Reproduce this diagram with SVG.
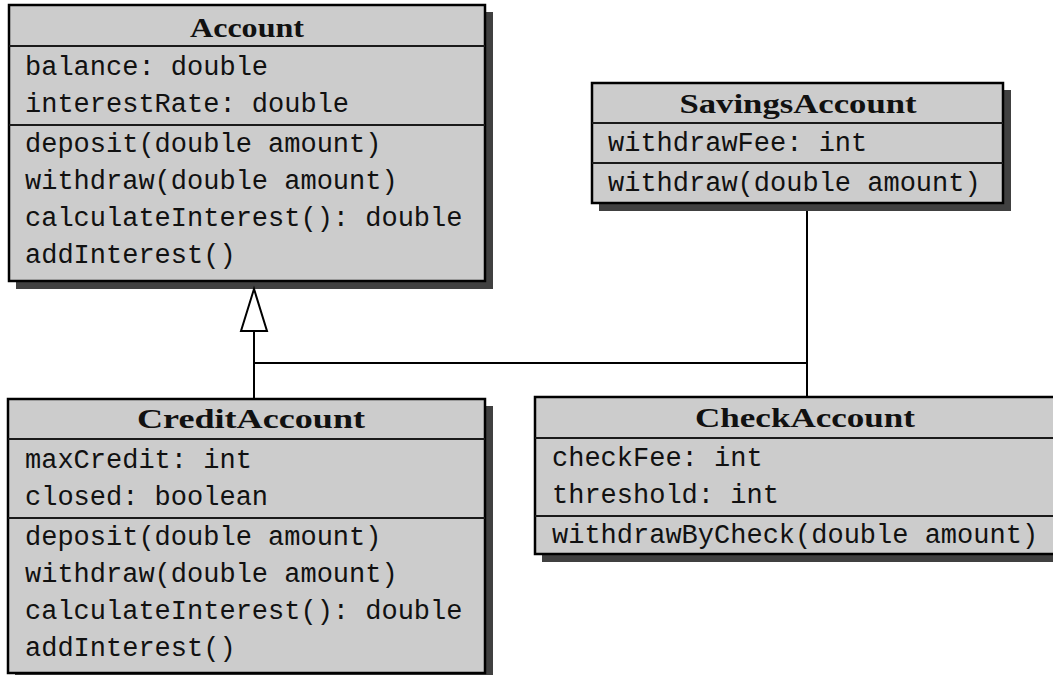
<svg xmlns="http://www.w3.org/2000/svg" width="1053" height="675" viewBox="0 0 1053 675">
  <style>
    .shadow { fill: #404040; }
    .box { fill: #cccccc; stroke: #000000; stroke-width: 2.5; }
    .sep { stroke: #1a1a1a; stroke-width: 2.2; }
    .title { font-family: "Liberation Serif", "DejaVu Serif", serif; font-weight: bold; font-size: 27px; fill: #111111; }
    .mono { font-family: "Liberation Mono", "DejaVu Sans Mono", monospace; font-size: 27px; fill: #111111; }
    .conn { stroke: #000000; stroke-width: 2; fill: none; }
  </style>

  <!-- Account -->
  <g id="account">
    <rect class="shadow" x="16" y="12" width="477" height="277"/>
    <rect class="box" x="9" y="5" width="476" height="276"/>
    <line class="sep" x1="9" y1="46" x2="485" y2="46"/>
    <line class="sep" x1="9" y1="125" x2="485" y2="125"/>
    <text class="title" x="247" y="37" text-anchor="middle" textLength="114" lengthAdjust="spacingAndGlyphs">Account</text>
    <text class="mono" x="25" y="75">balance: double</text>
    <text class="mono" x="25" y="112">interestRate: double</text>
    <text class="mono" x="25" y="152">deposit(double amount)</text>
    <text class="mono" x="25" y="189">withdraw(double amount)</text>
    <text class="mono" x="25" y="226">calculateInterest(): double</text>
    <text class="mono" x="25" y="263">addInterest()</text>
  </g>

  <!-- SavingsAccount -->
  <g id="savings-account">
    <rect class="shadow" x="599" y="90" width="412" height="121"/>
    <rect class="box" x="592" y="83" width="411" height="120"/>
    <line class="sep" x1="592" y1="123" x2="1003" y2="123"/>
    <line class="sep" x1="592" y1="163" x2="1003" y2="163"/>
    <text class="title" x="798" y="113" text-anchor="middle" textLength="237" lengthAdjust="spacingAndGlyphs">SavingsAccount</text>
    <text class="mono" x="608" y="151">withdrawFee: int</text>
    <text class="mono" x="608" y="191">withdraw(double amount)</text>
  </g>

  <!-- CreditAccount -->
  <g id="credit-account">
    <rect class="shadow" x="15" y="406" width="478" height="276"/>
    <rect class="box" x="8" y="399" width="477" height="274"/>
    <line class="sep" x1="8" y1="439" x2="485" y2="439"/>
    <line class="sep" x1="8" y1="518" x2="485" y2="518"/>
    <text class="title" x="251" y="428" text-anchor="middle" textLength="228" lengthAdjust="spacingAndGlyphs">CreditAccount</text>
    <text class="mono" x="25" y="468">maxCredit: int</text>
    <text class="mono" x="25" y="505">closed: boolean</text>
    <text class="mono" x="25" y="545">deposit(double amount)</text>
    <text class="mono" x="25" y="582">withdraw(double amount)</text>
    <text class="mono" x="25" y="619">calculateInterest(): double</text>
    <text class="mono" x="25" y="656">addInterest()</text>
  </g>

  <!-- CheckAccount -->
  <g id="check-account">
    <rect class="shadow" x="542" y="404" width="530" height="158"/>
    <rect class="box" x="535" y="397" width="530" height="157"/>
    <line class="sep" x1="535" y1="438" x2="1065" y2="438"/>
    <line class="sep" x1="535" y1="516" x2="1065" y2="516"/>
    <text class="title" x="805" y="427" text-anchor="middle" textLength="220" lengthAdjust="spacingAndGlyphs">CheckAccount</text>
    <text class="mono" x="552" y="466">checkFee: int</text>
    <text class="mono" x="552" y="503">threshold: int</text>
    <text class="mono" x="552" y="543">withdrawByCheck(double amount)</text>
  </g>

  <!-- Generalization connectors -->
  <g id="connectors">
    <line class="conn" x1="254" y1="331" x2="254" y2="363" stroke-width="3"/>
    <line class="conn" x1="254" y1="363" x2="254" y2="399"/>
    <line class="conn" x1="253" y1="363" x2="808" y2="363"/>
    <line class="conn" x1="807" y1="211" x2="807" y2="397"/>
    <polygon points="254,289 241,331 267,331" fill="#ffffff" stroke="#000000" stroke-width="2"/>
  </g>
</svg>
